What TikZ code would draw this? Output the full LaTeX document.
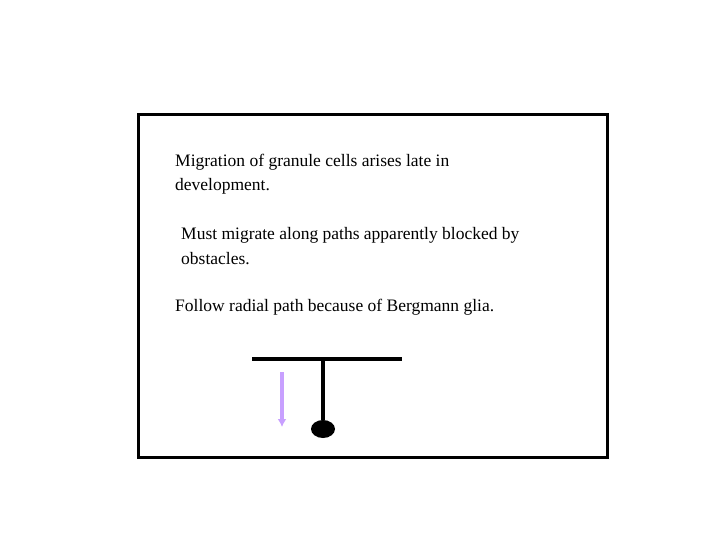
\documentclass[tikz,border=0pt]{standalone}
\usepackage{fontspec}
\setmainfont{Liberation Serif}
\usetikzlibrary{shapes.geometric,arrows.meta}
\begin{document}
\begin{tikzpicture}[x=1pt,y=-1pt,
  txt/.style={anchor=base west,inner sep=0pt,font=\fontsize{17.5}{21}\selectfont},
  bar/.style={line width=3.5pt}]
\useasboundingbox (0,0) rectangle (720,540);
\node[draw,line width=3pt,minimum width=469pt,minimum height=343pt,anchor=north west,inner sep=0pt] (frame) at (137,113) {};
\node[txt] (t1) at (175,167) {Migration of granule cells arises late in};
\node[txt] (t2) at (175,191) {development.};
\node[txt] (t3) at (181,240) {Must migrate along paths apparently blocked by};
\node[txt] (t4) at (181,264) {obstacles.};
\node[txt] (t5) at (175,311) {Follow radial path because of Bergmann glia.};
\coordinate (hl) at (252,359);
\coordinate (hr) at (402,359);
\coordinate (vt) at (323,359);
\node[ellipse,fill=black,minimum width=24pt,minimum height=18pt,inner sep=0pt] (soma) at (323,429) {};
\draw[bar] (hl) -- (hr);
\draw[bar] (vt) -- (soma.north);
\coordinate (a1) at (282,372);
\coordinate (a2) at (282,427);
\draw[line width=3.5pt,color={rgb,255:red,200;green,160;blue,255},-{Latex[length=8pt,width=9pt]}] (a1) -- (a2);
\end{tikzpicture}
\end{document}
